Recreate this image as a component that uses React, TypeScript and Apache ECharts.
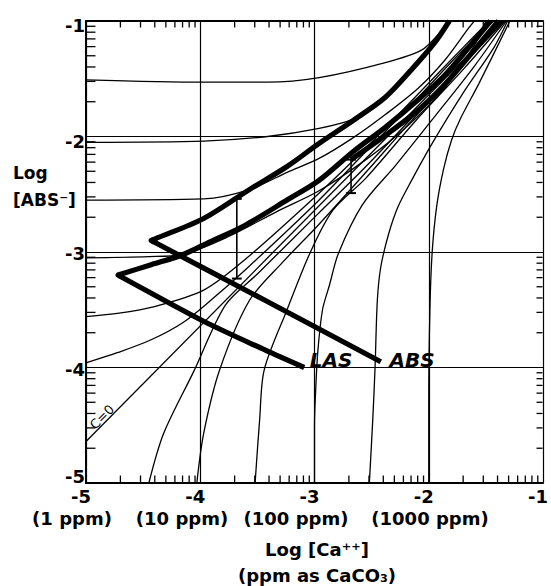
import React, { useEffect, useRef } from "react";
import * as echarts from "echarts";

// ---------- axis data ----------
const AXIS_TICKS = [-5, -4, -3, -2, -1];
const PPM_LABELS = ["(1 ppm)", "(10 ppm)", "(100 ppm)", "(1000 ppm)"];
const MINOR_DECADES = [-5, -4, -3, -2];
const MINOR_MULTIPLES = [2, 3, 4, 5, 6, 7, 8, 9];

// ---------- thin curves (log[Ca++], log[ABS-]) ----------
const curveA1 = [[-5, -1.51], [-3.97, -1.53], [-3.41, -1.53], [-2.96, -1.49], [-2.38, -1.36], [-2.06, -1.25], [-1.9, -1.1], [-1.8, -1.0]];
const curveA2 = [[-5, -2.05], [-3.97, -2.04], [-3.41, -2.0], [-2.96, -1.93], [-2.66, -1.85], [-2.45, -1.72]];
const curveA3 = [[-5, -2.55], [-3.97, -2.54], [-3.57, -2.46], [-3.24, -2.31], [-2.96, -2.19], [-2.66, -2.01], [-2.38, -1.81], [-2.09, -1.58], [-1.86, -1.34], [-1.65, -1.06], [-1.6, -1.0]];
const curveL4 = [[-5, -3.05], [-4.45, -3.04], [-4.15, -3.02], [-3.76, -2.87], [-3.33, -2.65], [-2.96, -2.47], [-2.55, -2.2], [-2.21, -1.93], [-1.86, -1.58], [-1.6, -1.21], [-1.5, -1.0]];
const curveL5 = [[-5, -3.56], [-4.71, -3.53], [-4.43, -3.48], [-3.97, -3.33], [-3.59, -3.05], [-2.97, -2.5], [-2.55, -2.1], [-2.12, -1.66], [-1.69, -1.22], [-1.47, -1.0]];
const curveL6 = [[-5, -3.96], [-4.72, -3.87], [-4.43, -3.76], [-4.15, -3.61], [-3.91, -3.42], [-3.59, -3.14], [-2.97, -2.56], [-2.55, -2.13], [-2.12, -1.69], [-1.69, -1.24], [-1.43, -1.0]];
const lineC0 = [[-5, -4.64], [-1.36, -1.0]];
const curveB1 = [[-4.45, -5], [-4.32, -4.57], [-4.06, -4.04], [-3.78, -3.46], [-3.5, -3.19], [-2.97, -2.67], [-2.55, -2.26], [-2.12, -1.81], [-1.69, -1.35], [-1.35, -1.0]];
const curveB2 = [[-4.03, -5], [-3.97, -4.57], [-3.83, -4.02], [-3.57, -3.42], [-3.28, -3.09], [-2.97, -2.77], [-2.55, -2.31], [-2.12, -1.83], [-1.69, -1.37], [-1.34, -1.0]];
const curveB3 = [[-3.52, -5], [-3.48, -4.45], [-3.44, -4.02], [-3.24, -3.5], [-3.04, -3.01], [-2.84, -2.64], [-2.55, -2.36], [-2.12, -1.87], [-1.69, -1.41], [-1.33, -1.0]];
const curveB4 = [[-3.0, -5], [-3.0, -4.5], [-2.99, -4.2], [-2.97, -3.85], [-2.93, -3.5], [-2.87, -3.29], [-2.79, -3.01], [-2.58, -2.59], [-2.29, -2.25], [-1.95, -1.83], [-1.6, -1.39], [-1.32, -1.0]];
const curveB5 = [[-2.52, -5], [-2.49, -4.45], [-2.47, -4.0], [-2.45, -3.42], [-2.42, -3.13], [-2.35, -2.84], [-2.27, -2.61], [-2.15, -2.38], [-1.97, -2.06], [-1.69, -1.61], [-1.43, -1.23], [-1.31, -1.0]];
const curveB6 = [[-2.0, -5], [-2.0, -4.3], [-1.99, -3.5], [-1.97, -3.0], [-1.93, -2.6], [-1.87, -2.28], [-1.8, -2.03], [-1.72, -1.84], [-1.56, -1.54], [-1.29, -1.0]];

// ---------- thick boundaries ----------
const absLowerArm = [[-2.42, -3.95], [-3.43, -3.42], [-4.4, -2.916]];
const absApex = [-4.43, -2.9];
const absUpperArm = [[-4.4, -2.888], [-3.97, -2.71], [-3.57, -2.46], [-3.24, -2.26], [-2.96, -2.06], [-2.66, -1.86], [-2.38, -1.66], [-2.15, -1.42], [-1.95, -1.19], [-1.82, -1.0]];
const lasLowerArm = [[-3.09, -4.0], [-3.43, -3.85], [-3.97, -3.6], [-4.69, -3.216]];
const lasApex = [-4.72, -3.2];
const lasUpperArm = [[-4.69, -3.191], [-4.43, -3.11], [-4.17, -3.03], [-3.91, -2.91], [-3.61, -2.77], [-3.24, -2.55], [-2.96, -2.38], [-2.66, -2.13], [-2.38, -1.92], [-2.09, -1.68], [-1.86, -1.47], [-1.65, -1.23], [-1.46, -1.0]];
const lasBranch = [[-2.68, -2.2], [-2.38, -1.99], [-2.09, -1.77], [-1.86, -1.55], [-1.6, -1.25], [-1.39, -1.0]];

// ---------- error bars: [x, low, high] ----------
const errorBars = [[-3.68, -3.23, -2.54], [-2.68, -2.49, -2.2]];

const FONT = "'DejaVu Sans', sans-serif";
const PLOT_W = 464;
const PLOT_H = 462;

export default function App() {
  const ref = useRef<HTMLDivElement>(null);

  useEffect(() => {
    if (!ref.current) return;
    const chart = echarts.init(ref.current, undefined, { renderer: "svg" });

    const minorTicks: number[] = [];
    for (const d of MINOR_DECADES) {
      for (const k of MINOR_MULTIPLES) minorTicks.push(d + Math.log10(k));
    }
    const lo = AXIS_TICKS[0];
    const hi = AXIS_TICKS[AXIS_TICKS.length - 1];
    const span = hi - lo;
    const dx = (px: number) => (px * span) / PLOT_W;
    const dy = (px: number) => (px * span) / PLOT_H;

    const thinCurves = [curveA1, curveA2, curveA3, curveL4, curveL5, curveL6, lineC0, curveB1, curveB2, curveB3, curveB4, curveB5, curveB6];
    const thickCurves = [
      [...absLowerArm, absApex, ...absUpperArm],
      [...lasLowerArm, lasApex, ...lasUpperArm],
      lasBranch,
    ];

    const segSeries = (a: number[], b: number[], width: number) => ({
      type: "line",
      data: [a, b],
      symbol: "none",
      smooth: false,
      clip: false,
      silent: true,
      z: 6,
      lineStyle: { color: "#000", width },
    });

    // minor ticks as small bar-shaped symbols sitting just inside each side of the frame
    const tickMarks = (points: number[][], size: number[], offset: number[]) => ({
      type: "scatter",
      data: points,
      symbol: "rect",
      symbolSize: size,
      symbolOffset: offset,
      clip: false,
      silent: true,
      z: 7,
      itemStyle: { color: "#000", opacity: 1 },
    });
    const tickScatter = [
      tickMarks(minorTicks.map((v) => [v, lo + dy(1)]), [1.3, 7], [0, -3]),
      tickMarks(minorTicks.map((v) => [v, hi - dy(1)]), [1.3, 6], [0, 2.5]),
      tickMarks(minorTicks.map((v) => [lo + dx(1), v]), [9, 1.3], [4, 0]),
      tickMarks(minorTicks.map((v) => [hi - dx(1), v]), [6, 1.3], [-2.5, 0]),
    ];

    const errorSeries: any[] = [];
    errorBars.forEach(([x, low, high]) => {
      errorSeries.push(segSeries([x, low], [x, high], 1.6));
      errorSeries.push(segSeries([x - dx(5), low], [x + dx(5), low], 2));
      errorSeries.push(segSeries([x - dx(5), high], [x + dx(5), high], 2));
    });

    const thinSeries = thinCurves.map((d) => ({
      type: "line",
      data: d,
      symbol: "none",
      smooth: 0.3,
      silent: true,
      z: 2,
      lineStyle: { color: "#000", width: 1.3 },
    }));
    const thickSeries = thickCurves.map((d) => ({
      type: "line",
      data: d,
      symbol: "none",
      smooth: 0.3,
      silent: true,
      z: 3,
      lineStyle: { color: "#000", width: 5.2, join: "miter", miterLimit: 10, cap: "butt" },
    }));

    const text = (t: string, x: number, y: number, size: number, o: any = {}) => ({
      type: "text",
      x,
      y,
      rotation: o.rotation || 0,
      silent: true,
      z: 10,
      style: {
        text: t,
        fill: "#000",
        fontFamily: FONT,
        fontSize: size,
        fontWeight: o.weight || "bold",
        fontStyle: o.italic ? "italic" : "normal",
        align: o.align || "center",
        textAlign: o.align || "center",
        verticalAlign: "middle",
        textVerticalAlign: "middle",
      },
    });

    const PPM_X = [72, 182, 296, 430];
    const labelFont = { fontFamily: FONT, fontSize: 18, fontWeight: "bold", color: "#000" };

    const option: any = {
      animation: false,
      backgroundColor: "#fff",
      grid: { left: 86, top: 21, width: PLOT_W, height: PLOT_H, containLabel: false },
      xAxis: [
        {
          type: "value",
          min: lo,
          max: hi,
          interval: 1,
          position: "bottom",
          axisLine: { show: true, onZero: false, lineStyle: { color: "#000", width: 2 } },
          axisTick: { show: false },
          splitLine: { show: true, lineStyle: { color: "#000", width: 1.2 } },
          axisLabel: {
            show: true,
            ...labelFont,
            margin: 4,
            padding: [0, 10, 0, 0],
            showMinLabel: true,
            showMaxLabel: true,
            formatter: (v: number) => String(v),
          },
        },
        {
          type: "value",
          min: lo,
          max: hi,
          interval: 1,
          position: "top",
          axisLine: { show: true, onZero: false, lineStyle: { color: "#000", width: 2 } },
          axisTick: { show: false },
          axisLabel: { show: false },
          splitLine: { show: false },
        },
      ],
      yAxis: [
        {
          type: "value",
          min: lo,
          max: hi,
          interval: 1,
          position: "left",
          axisLine: { show: true, onZero: false, lineStyle: { color: "#000", width: 2 } },
          axisTick: { show: false },
          splitLine: { show: true, lineStyle: { color: "#000", width: 1.2 } },
          axisLabel: {
            ...labelFont,
            margin: 1,
            showMinLabel: true,
            showMaxLabel: true,
            formatter: (v: number) => (v === lo ? `{up|${v}}` : v >= -2 ? `{dn|${v}}` : `{n|${v}}`),
            rich: {
              up: { ...labelFont, padding: [0, 0, 14, 0] },
              dn: { ...labelFont, padding: [9, 0, 0, 0] },
              n: { ...labelFont, padding: [3, 0, 0, 0] },
            },
          },
        },
      ],
      series: [...thinSeries, ...thickSeries, ...errorSeries, ...tickScatter],
      graphic: [
        ...PPM_LABELS.map((t, i) => text(t, PPM_X[i], 518, 18)),
        text("Log [Ca\u207A\u207A]", 317, 549, 18),
        text("(ppm as CaCO\u2083)", 317, 575, 18),
        text("Log", 13, 173, 17, { align: "left" }),
        text("[ABS\u207B]", 13, 200, 17, { align: "left" }),
        text("LAS", 331, 360, 20, { italic: true }),
        text("ABS", 412, 360, 20, { italic: true }),
        text("C=0", 102, 417, 13, { rotation: Math.PI / 4, weight: "normal" }),
      ],
    };

    chart.setOption(option);
    return () => chart.dispose();
  }, []);

  return (
    <div
      ref={ref}
      style={{ position: "absolute", left: 0, top: 0, width: 551, height: 586, background: "#fff" }}
    />
  );
}
